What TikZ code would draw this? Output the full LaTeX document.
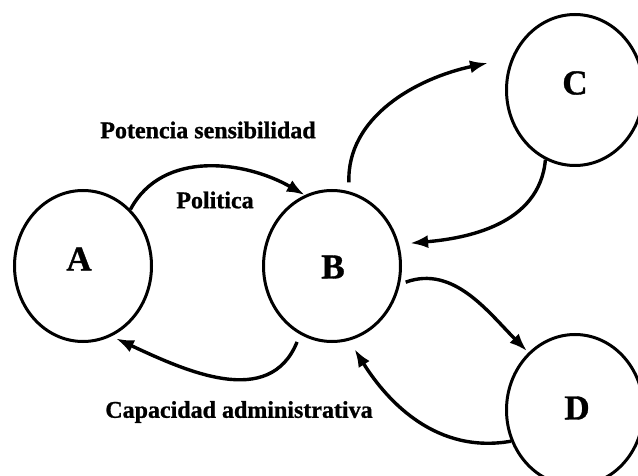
\documentclass[tikz,border=0pt]{standalone}
\usepackage{fontspec}
\setmainfont{Liberation Serif}
\newfontfamily\heavyserif[BoldFeatures={FakeBold=1}]{Liberation Serif}
\usetikzlibrary{shapes.geometric,arrows.meta}
\begin{document}
\begin{tikzpicture}[x=1pt,y=1pt,
  circ/.style={ellipse,draw,line width=3pt,minimum width=137pt,minimum height=151pt,inner sep=0pt},
  letter/.style={font=\fontsize{35}{40}\heavyserif\bfseries,inner sep=0pt},
  conn/.style={line width=3.4pt,-{Latex[length=18pt,width=13pt]}},
  lbl/.style={font=\fontsize{24}{28}\heavyserif\bfseries,inner sep=0pt}]
\useasboundingbox (0,0) rectangle (638,-476);
\fill[white] (0,0) rectangle (638,-476);
\node[circ] (A) at (83,-266) {};
\node[circ] (B) at (332,-266) {};
\node[circ] (C) at (575,-90) {};
\node[circ] (D) at (575,-410) {};
\node[letter] (Al) at (79,-259) {A};
\node[letter] (Bl) at (333,-267) {B};
\node[letter] (Cl) at (575,-83) {C};
\node[letter] (Dl) at (577,-408) {D};
\node[lbl] (t1) at (208,-130) {Potencia sensibilidad};
\node[lbl] (t2) at (215,-200) {Politica};
\node[lbl] (t3) at (239,-412) {Capacidad administrativa};
\coordinate (cTip) at (488,-63);
% A -> B
\draw[conn] (A.50) to[out=62,in=150] (B.111);
% B -> A
\draw[conn,shorten <=8pt,shorten >=5pt] (B.245) to[out=-112,in=-25,looseness=1.1] (A.292);
% B -> C
\draw[conn,shorten <=9pt] (B.77) to[out=92,in=192] (cTip);
% C -> B
\draw[conn,shorten >=11pt] (C.247) to[out=-95,in=5] (B.18);
% B -> D
\draw[conn,shorten <=6pt,shorten >=2pt] (B.-15) to[out=20,in=135] (D.129);
% D -> B
\draw[conn,shorten >=10pt] (D.206) to[out=190,in=-58] (B.283);
\end{tikzpicture}
\end{document}
